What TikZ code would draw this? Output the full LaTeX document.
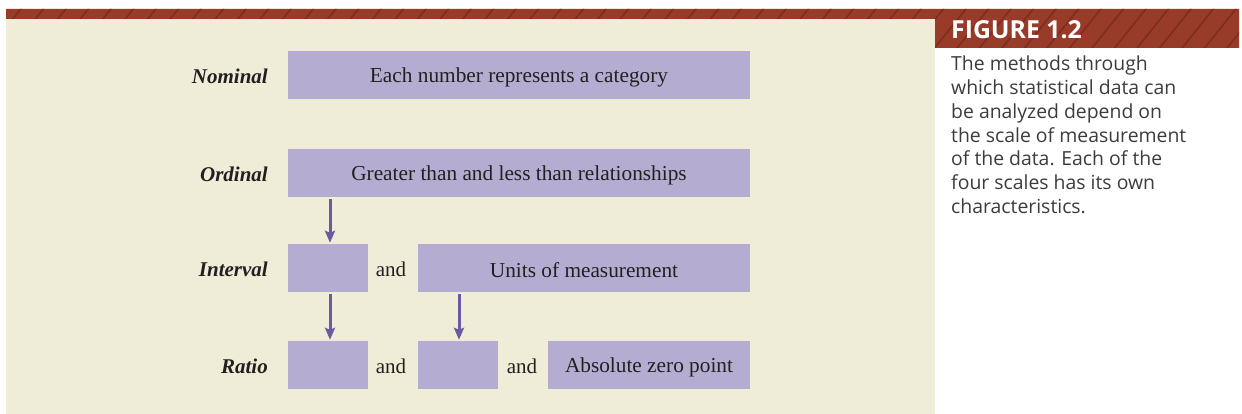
\documentclass[tikz,border=0pt]{standalone}
\usepackage{fontspec}
\setmainfont{Liberation Serif}
\newfontfamily\capfont{Open Sans}
\usetikzlibrary{arrows.meta}
\definecolor{barred}{HTML}{983B29}
\definecolor{hatchred}{HTML}{7E2D1E}
\definecolor{panel}{HTML}{EFEDD8}
\definecolor{boxfill}{HTML}{B5ADD1}
\definecolor{arrowc}{HTML}{6B5AA2}
\definecolor{ink}{HTML}{231F20}
\definecolor{captext}{HTML}{3C3C3C}
\newcommand{\lowered}[1]{\raisebox{-2pt}[\height][\depth]{#1}}
\tikzset{
  box/.style={fill=boxfill, draw=none, minimum height=48pt, inner sep=0pt,
    text=ink, font=\fontsize{21.3}{24}\selectfont},
  lab/.style={anchor=east, inner sep=0pt, text=ink,
    font=\fontsize{21}{24}\selectfont\bfseries\itshape},
  andtxt/.style={inner sep=0pt, text=ink, font=\fontsize{21}{24}\selectfont},
  arr/.style={draw=arrowc, line width=3pt,
    -{Stealth[length=12pt, width=10pt, inset=2pt]}, shorten <=2pt, shorten >=1pt},
}
\begin{document}
\begin{tikzpicture}[x=1pt, y=-1pt]
\useasboundingbox (0,0) rectangle (1242,414);
% background panel
\fill[panel] (6,19) rectangle (935,414);
% hatched title band and caption header
\begin{scope}
  \clip (6,9) -- (1239,9) -- (1239,48) -- (935,48) -- (935,19) -- (6,19) -- cycle;
  \fill[barred] (0,0) rectangle (1242,60);
  \foreach \k in {0,...,58} {
    \draw[hatchred, line width=1.6pt] ({-20+22.5*\k},60) -- ({-20+22.5*\k+48},0);
  }
\end{scope}
\node[anchor=west, inner sep=0pt, text=white,
  font=\capfont\fontsize{24.8}{28}\selectfont\bfseries] (fig) at (951,30) {FIGURE 1.2};
\node[anchor=north west, inner sep=0pt, text=captext, align=left,
  font=\capfont\fontsize{19.4}{23.7}\selectfont] (cap) at (951,56)
  {The methods through\\which statistical data can\\be analyzed depend on\\the scale of measurement\\of the data. Each of the\\four scales has its own\\characteristics.};
% rows
\node[box, minimum width=462pt] (nom) at (519,75) {\lowered{Each number represents a category}};
\node[box, minimum width=462pt] (ord) at (519,173) {\lowered{Greater than and less than relationships}};
\node[box, minimum width=80pt] (iv1) at (328,268) {};
\node[box, minimum width=332pt] (iv2) at (584,268) {\lowered{Units of measurement}};
\node[box, minimum width=80pt] (ra1) at (328,365) {};
\node[box, minimum width=80pt] (ra2) at (458,365) {};
\node[box, minimum width=202pt] (ra3) at (649,365) {\lowered{Absolute zero point}};
\node[andtxt] (and1) at (391,269) {and};
\node[andtxt] (and2) at (391,366) {and};
\node[andtxt] (and3) at (522,366) {and};
% row labels
\node[lab] (lnom) at (268,76) {Nominal};
\node[lab] (lord) at (268,174) {Ordinal};
\node[lab] (liv) at (268,269) {Interval};
\node[lab] (lra) at (268,366) {Ratio};
% arrows
\draw[arr] ([xshift=2pt]iv1.north |- ord.south) -- ([xshift=2pt]iv1.north);
\draw[arr] ([xshift=2pt]iv1.south) -- ([xshift=2pt]ra1.north);
\draw[arr] ([xshift=1pt]ra2.north |- iv2.south) -- ([xshift=1pt]ra2.north);
\end{tikzpicture}
\end{document}
